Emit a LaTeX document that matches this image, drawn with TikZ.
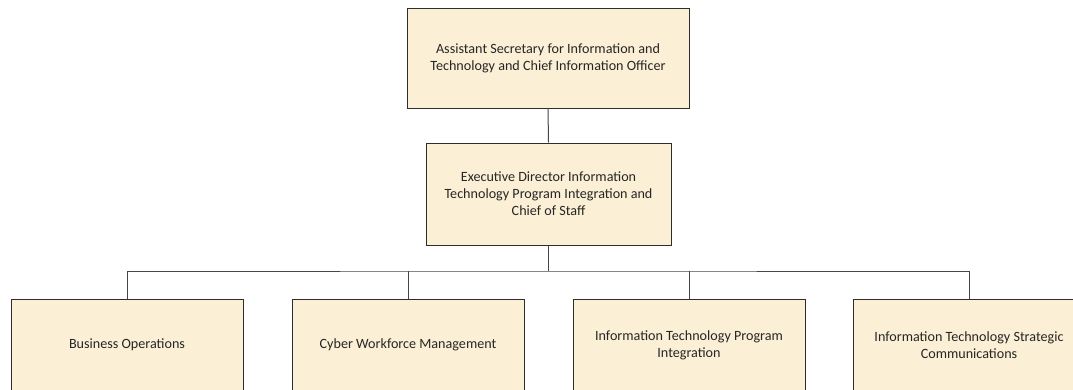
\documentclass[tikz,border=0pt]{standalone}
\usepackage{fontspec}
\setmainfont{Carlito}
\definecolor{parch}{RGB}{251,239,213}
\definecolor{edge}{RGB}{45,45,45}
\definecolor{wire}{RGB}{70,70,70}
\tikzset{
  orgbox/.style={draw=edge, line width=0.75pt, fill=parch, align=center, inner sep=0pt,
    font=\fontsize{10.6}{12.8}\selectfont, text=black!85},
  wireline/.style={draw=wire, line width=0.75pt}
}
\begin{document}
\begin{tikzpicture}[x=0.75pt,y=-0.75pt]
\useasboundingbox (0,0) rectangle (1073,389);
\clip (0,0) rectangle (1073,389);
\fill[white] (0,0) rectangle (1073,389);
\node[orgbox, minimum width=282*0.75pt, minimum height=100*0.75pt] (top) at (548,58)
  {Assistant Secretary for Information and\\Technology and Chief Information Officer};
\node[orgbox, minimum width=245*0.75pt, minimum height=102*0.75pt] (mid) at (548.5,194)
  {Executive Director Information\\Technology Program Integration and\\Chief of Staff};
\node[orgbox, minimum width=232*0.75pt, minimum height=92*0.75pt] (b1) at (127,345)
  {Business Operations};
\node[orgbox, minimum width=232*0.75pt, minimum height=92*0.75pt] (b2) at (408,345)
  {Cyber Workforce Management};
\node[orgbox, minimum width=232*0.75pt, minimum height=92*0.75pt] (b3) at (689,345)
  {Information Technology Program\\Integration};
\node[orgbox, minimum width=232*0.75pt, minimum height=92*0.75pt] (b4) at (969,345)
  {Information Technology Strategic\\Communications};
\coordinate (bar) at (548.5,271);
\draw[wireline] (top.south) -- (mid.north);
\draw[wireline] (mid.south) -- (bar);
\draw[wireline] (b1.north) |- (bar) -| (b4.north);
\draw[wireline] (b2.north) -- (b2.north |- bar);
\draw[wireline] (b3.north) -- (b3.north |- bar);
\end{tikzpicture}
\end{document}
